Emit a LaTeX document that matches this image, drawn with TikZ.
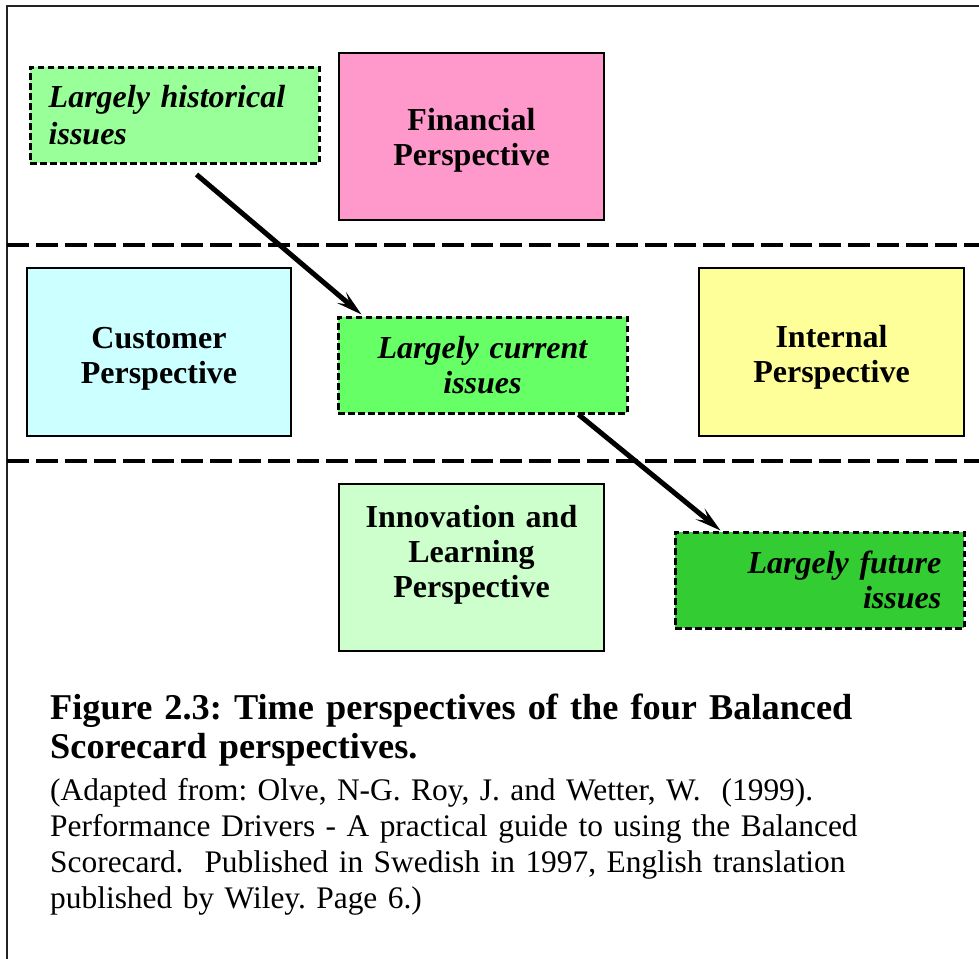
\documentclass[tikz,border=0pt]{standalone}
\usepackage{fontspec}
\setmainfont{Liberation Serif}
\usetikzlibrary{arrows.meta}

\definecolor{finpink}{HTML}{FF99CC}
\definecolor{custcyan}{HTML}{CCFFFF}
\definecolor{intyellow}{HTML}{FFFF99}
\definecolor{innogreen}{HTML}{CCFFCC}
\definecolor{histgreen}{HTML}{99FF99}
\definecolor{curgreen}{HTML}{66FF66}
\definecolor{futgreen}{HTML}{33CC33}
\definecolor{framegray}{HTML}{222222}

\frenchspacing
\begin{document}
\begin{tikzpicture}[x=1pt,y=-1pt,
  solidbox/.style={draw=black, line width=1.5pt, inner sep=0pt},
  dashbox/.style={draw=black, line width=3pt, dash pattern=on 6.5pt off 3.5pt, inner sep=0pt},
  boxtext/.style={font=\fontsize{32}{35}\selectfont\bfseries, inner sep=0pt,
    text width=265pt, align=center, anchor=base},
  issuetext/.style={font=\fontsize{32}{35}\selectfont\bfseries\itshape, inner sep=0pt,
    text width=280pt},
  separator/.style={line width=4pt, dash pattern=on 22pt off 7pt},
  timearrow/.style={line width=5pt, -{Stealth[length=26pt,width=14pt,inset=11pt]}},
  captitle/.style={font=\fontsize{36.3}{39}\selectfont\bfseries, inner sep=0pt,
    text width=920pt, align=left, anchor=base west},
  capbody/.style={font=\fontsize{31.4}{36}\selectfont, inner sep=0pt,
    text width=920pt, align=left, anchor=base west}
]
\useasboundingbox (0,0) rectangle (979,958);
\fill[white] (0,0) rectangle (979,958);

% outer frame (continues past the right and bottom edges)
\draw[framegray, line width=2pt] (7,970) -- (7,6) -- (990,6);

% time bands
\draw[separator] (7,245) -- (979,245);
\draw[separator] (7,461) -- (979,461);

% the four perspectives
\node[solidbox, fill=finpink, minimum width=265pt, minimum height=167pt] (fin) at (471.5,136.5) {};
\node[solidbox, fill=custcyan, minimum width=264pt, minimum height=168pt] (cust) at (159,352) {};
\node[solidbox, fill=intyellow, minimum width=265pt, minimum height=168pt] (inter) at (831.5,352) {};
\node[solidbox, fill=innogreen, minimum width=265pt, minimum height=167pt] (inno) at (471.5,567.5) {};

\node[boxtext] (finT) at ([shift={(0,-6.5)}]fin.center) {Financial\\Perspective};
\node[boxtext] (custT) at ([shift={(0,-4)}]cust.center) {Customer\\Perspective};
\node[boxtext] (interT) at ([shift={(0,-5)}]inter.center) {Internal\\Perspective};
\node[boxtext] (innoT) at ([shift={(0,-40.5)}]inno.center) {Innovation and\\Learning\\Perspective};

% time horizon labels
\node[dashbox, fill=histgreen, minimum width=289pt, minimum height=96pt] (hist) at (174.5,115) {};
\node[dashbox, fill=curgreen, minimum width=289pt, minimum height=96pt] (cur) at (482.5,365) {};
\node[dashbox, fill=futgreen, minimum width=289pt, minimum height=96pt] (fut) at (819.5,580) {};

\node[issuetext, font=\fontsize{32}{37}\selectfont\bfseries\itshape, align=left, anchor=base west]
  (histT) at ([shift={(20,-8)}]hist.west) {Largely historical\\issues};
\node[issuetext, align=center, anchor=base] (curT) at ([shift={(0,-7)}]cur.center) {Largely current\\issues};
\node[issuetext, align=right, anchor=base east] (futT) at ([shift={(-24,-7)}]fut.east) {Largely future\\issues};

% arrows from past to future
\coordinate (a1s) at ([shift={(168,10)}]hist.south west);
\coordinate (a1e) at ([shift={(25,-1)}]cur.north west);
\coordinate (a2s) at ([shift={(242,0)}]cur.south west);
\coordinate (a2e) at ([shift={(47,0)}]fut.north west);
\draw[timearrow] (a1s) -- (a1e);
\draw[timearrow] (a2s) -- (a2e);

% caption
\node[captitle] (title) at (50,719) {Figure 2.3: Time perspectives of the four Balanced\\Scorecard perspectives.};
\node[capbody] (source) at (50,800) {(Adapted from: Olve, N-G. Roy, J. and Wetter, W.\ \ (1999).\\Performance Drivers - A practical guide to using the Balanced\\Scorecard.\ \ Published in Swedish in 1997, English translation\\published by Wiley. Page 6.)};
\end{tikzpicture}
\end{document}
